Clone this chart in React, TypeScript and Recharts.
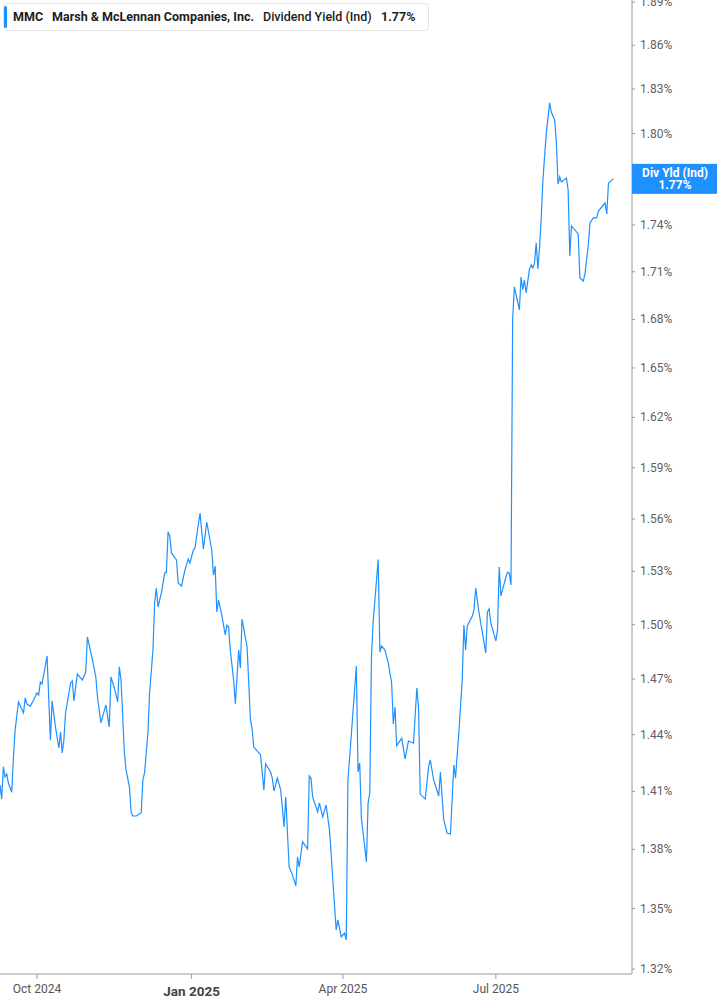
import React from "react";
import { LineChart, Line, XAxis, YAxis } from "recharts";

// calendar days counted from 2024-09-09
const dayOffsets = [
  0, 1, 2, 3, 4, 5, 7, 8, 9, 11,
  14, 15, 16, 18, 20, 22, 23, 24, 25, 28,
  30, 31, 33, 35, 36, 37, 38, 39, 42, 43,
  44, 46, 49, 51, 52, 55, 57, 58, 60, 63,
  65, 66, 68, 70, 71, 72, 74, 75, 77, 78,
  79, 81, 84, 85, 86, 88, 89, 91, 92, 93,
  94, 96, 97, 98, 99, 100, 101, 102, 105, 106,
  108, 110, 112, 113, 115, 116, 119, 121, 123, 126,
  127, 128, 129, 130, 132, 134, 135, 136, 137, 139,
  140, 142, 143, 144, 147, 149, 150, 151, 154, 155,
  157, 158, 161, 162, 163, 165, 167, 168, 169, 170,
  172, 174, 176, 177, 178, 180, 183, 184, 185, 186,
  189, 190, 192, 194, 196, 197, 198, 200, 201, 203,
  205, 206, 207, 209, 212, 213, 214, 215, 218, 219,
  220, 221, 222, 225, 226, 227, 229, 231, 233, 234,
  235, 236, 239, 241, 243, 246, 248, 249, 250, 253,
  255, 256, 258, 261, 262, 264, 266, 268, 270, 271,
  273, 275, 276, 277, 278, 281, 282, 283, 285, 289,
  290, 291, 292, 295, 296, 297, 298, 301, 302, 303,
  304, 305, 306, 309, 310, 311, 312, 313, 315, 316,
  317, 318, 319, 320, 321, 322, 323, 325, 327, 328,
  330, 331, 332, 333, 334, 337, 338, 339, 340, 344,
  345, 347, 348, 350, 351, 353, 355, 356, 359, 360,
  361, 362, 365,
];

// MMC dividend yield (indicated), %
const yieldPct = [
  1.4133, 1.4060, 1.4229, 1.4176, 1.4192, 1.4144, 1.4096, 1.4281, 1.4425, 1.4576,
  1.4517, 1.4598, 1.4565, 1.4554, 1.4587, 1.4625, 1.4614, 1.4684, 1.4674, 1.4827,
  1.4371, 1.4582, 1.4441, 1.4329, 1.4414, 1.4303, 1.4371, 1.4517, 1.4679, 1.4690,
  1.4582, 1.4728, 1.4695, 1.4739, 1.4932, 1.4805, 1.4712, 1.4603, 1.4463, 1.4560,
  1.4441, 1.4712, 1.4652, 1.4576, 1.4767, 1.4695, 1.4303, 1.4213, 1.4123, 1.3993,
  1.3972, 1.3972, 1.3988, 1.4160, 1.4197, 1.4409, 1.4625, 1.4860, 1.5122, 1.5206,
  1.5099, 1.5178, 1.5234, 1.5290, 1.5296, 1.5526, 1.5503, 1.5405, 1.5365, 1.5234,
  1.5217, 1.5307, 1.5371, 1.5348, 1.5422, 1.5434, 1.5635, 1.5428, 1.5583, 1.5422,
  1.5279, 1.5330, 1.5071, 1.5138, 1.5054, 1.4943, 1.4998, 1.4987, 1.4860, 1.4695,
  1.4566, 1.4860, 1.4761, 1.5032, 1.4877, 1.4479, 1.4430, 1.4334, 1.4303, 1.4292,
  1.4107, 1.4245, 1.4202, 1.4170, 1.4102, 1.4170, 1.4107, 1.4014, 1.3915, 1.4071,
  1.3710, 1.3670, 1.3614, 1.3761, 1.3710, 1.3838, 1.3802, 1.4181, 1.4170, 1.4071,
  1.3993, 1.4040, 1.3967, 1.4029, 1.3900, 1.3781, 1.3645, 1.3393, 1.3443, 1.3359,
  1.3378, 1.3344, 1.4160, 1.4398, 1.4772, 1.4202, 1.4250, 1.3962, 1.3736, 1.4040,
  1.4091, 1.4822, 1.5015, 1.5367, 1.4849, 1.4882, 1.4860, 1.4788, 1.4679, 1.4457,
  1.4549, 1.4340, 1.4382, 1.4271, 1.4366, 1.4355, 1.4652, 1.4549, 1.4086, 1.4060,
  1.4229, 1.4266, 1.4160, 1.4076, 1.4202, 1.3952, 1.3884, 1.3879, 1.4240, 1.4170,
  1.4414, 1.4695, 1.4998, 1.4860, 1.4993, 1.5049, 1.5083, 1.5206, 1.5066, 1.4844,
  1.5071, 1.5088, 1.5010, 1.4910, 1.4971, 1.5325, 1.5161, 1.5268, 1.5296, 1.5290,
  1.5223, 1.6803, 1.7004, 1.6859, 1.7067, 1.6985, 1.7048, 1.6966, 1.7117, 1.7143,
  1.7124, 1.7156, 1.7284, 1.7117, 1.7258, 1.7445, 1.7692, 1.8003, 1.8206, 1.8145,
  1.8091, 1.7937, 1.7666, 1.7712, 1.7679, 1.7705, 1.7627, 1.7201, 1.7393, 1.7342,
  1.7060, 1.7041, 1.7085, 1.7271, 1.7412, 1.7445, 1.7445, 1.7490, 1.7529, 1.7542,
  1.7471, 1.7673, 1.7700,
];

const yTicks = [
  1.32, 1.35, 1.38, 1.41, 1.44, 1.47, 1.5, 1.53, 1.56, 1.59,
  1.62, 1.65, 1.68, 1.71, 1.74, 1.77, 1.8, 1.83, 1.86, 1.89,
];
const xTickDays = [22, 114, 204, 295];
const xTickLabels = ["Oct 2024", "Jan 2025", "Apr 2025", "Jul 2025"];
const lastYield = 1.77;

const BLUE = "#1E90FF";
const AXIS = "#9a9a9a";

const data = dayOffsets.map((d, i) => ({ day: d, y: yieldPct[i] }));

const XTick = ({ x, y, payload }: any) => {
  const i = xTickDays.indexOf(payload.value);
  const bold = i === 1;
  return (
    <text
      x={x}
      y={y + (bold ? 15 : 12)}
      textAnchor="middle"
      fill={bold ? "#444" : "#555"}
      fontSize={bold ? 13.5 : 12}
      fontWeight={bold ? 700 : 400}
      fontFamily="Roboto"
    >
      {xTickLabels[i]}
    </text>
  );
};

const YTick = ({ x, y, payload }: any) => {
  const v = payload.value;
  if (Math.abs(v - lastYield) < 1e-6) {
    const left = x - 8;
    return (
      <g>
        <rect x={left} y={y - 15} width={85} height={30} fill={BLUE} />
        <text x={left + 43} y={y - 2} textAnchor="middle" fill="#fff" fontSize={12} fontWeight={700} fontFamily="Roboto">
          Div Yld (Ind)
        </text>
        <text x={left + 43} y={y + 10} textAnchor="middle" fill="#fff" fontSize={12} fontWeight={700} fontFamily="Roboto">
          {lastYield.toFixed(2)}%
        </text>
      </g>
    );
  }
  return (
    <text x={x} y={y + 4} textAnchor="start" fill="#5f5f5f" fontSize={12} fontFamily="Roboto">
      {v.toFixed(2)}%
    </text>
  );
};

const legendText = (left: number, weight: number, text: string) => (
  <span
    style={{
      position: "absolute",
      left,
      top: 9,
      fontSize: 12.5,
      lineHeight: "16px",
      fontWeight: weight,
      color: "#1d1d1d",
      whiteSpace: "nowrap",
    }}
  >
    {text}
  </span>
);

export default function App() {
  return (
    <div style={{ position: "relative", width: 717, height: 1005, fontFamily: "Roboto", background: "#fff" }}>
      <style>{`body{margin:0}`}</style>
      <LineChart width={717} height={1005} data={data} margin={{ top: 0, right: 0, left: 0, bottom: 0 }}>
        <XAxis
          dataKey="day"
          type="number"
          domain={[0, 376]}
          ticks={xTickDays}
          tick={<XTick />}
          tickSize={5}
          height={31}
          axisLine={{ stroke: AXIS }}
          tickLine={{ stroke: AXIS }}
          interval={0}
        />
        <YAxis
          orientation="right"
          type="number"
          scale="log"
          domain={[1.3176, 1.8915]}
          allowDataOverflow
          ticks={yTicks}
          tick={<YTick />}
          tickSize={3}
          tickMargin={5}
          width={85}
          axisLine={{ stroke: AXIS }}
          tickLine={{ stroke: AXIS }}
          interval={0}
        />
        <Line
          type="linear"
          dataKey="y"
          stroke={BLUE}
          strokeWidth={1.2}
          dot={false}
          activeDot={false}
          isAnimationActive={false}
        />
      </LineChart>
      <div
        style={{
          position: "absolute",
          left: 3,
          top: 3,
          width: 424,
          height: 26,
          border: "1px solid #e4e4e4",
          borderRadius: 4,
          background: "#fff",
        }}
      >
        <div style={{ position: "absolute", left: 0, top: 2, width: 3, height: 22, background: BLUE, borderRadius: 2 }} />
      </div>
      {legendText(13, 700, "MMC")}
      {legendText(52, 700, "Marsh & McLennan Companies, Inc.")}
      {legendText(263, 500, "Dividend Yield (Ind)")}
      {legendText(381, 700, "1.77%")}
    </div>
  );
}
